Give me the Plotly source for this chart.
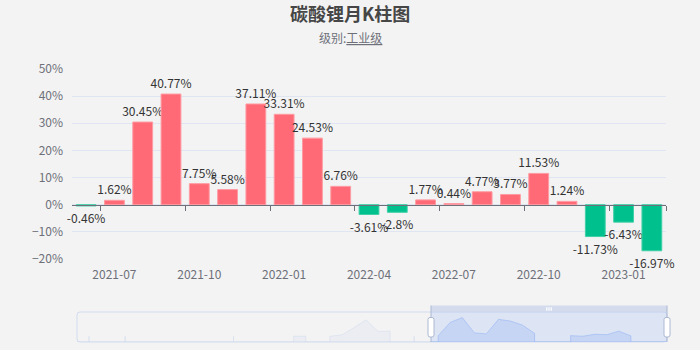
import plotly.graph_objects as go

W, H = 700, 350

# Monthly price change of industrial-grade lithium carbonate (%)
months = ["2021-06", "2021-07", "2021-08", "2021-09", "2021-10", "2021-11", "2021-12",
          "2022-01", "2022-02", "2022-03", "2022-04", "2022-05", "2022-06", "2022-07",
          "2022-08", "2022-09", "2022-10", "2022-11", "2022-12", "2023-01", "2023-02"]
changes = [-0.46, 1.62, 30.45, 40.77, 7.75, 5.58, 37.11, 33.31, 24.53, 6.76,
           -3.61, -2.8, 1.77, 0.44, 4.77, 3.77, 11.53, 1.24, -11.73, -6.43, -16.97]
tick_labels = ["2021-07", "2021-10", "2022-01", "2022-04", "2022-07", "2022-10", "2023-01"]

# Up-month gains 2019-01 .. 2021-05 (None = down month); only the zoom slider preview uses them
history_gains = [None, 0.2, None, None, 0.3, None, None, None, None, None,
                 None, None, None, 0.2, None, None, None, None, 0.5, 0.5,
                 None, 0.4, 3.4, 19.0, 36.0, 11.0, 11.5, None, 0.3]
zoom_start_pct = 60

UP, DOWN = "#ff6a76", "#00c18d"
AXIS_GRAY = "#6E7079"
FONT = "Noto Sans CJK SC, Noto Sans, sans-serif"

# layout geometry (pixels)
PL, PR, PT, PB = 72, 666, 69, 259
SL, SR, ST, SB = 77, 667, 312, 342


def fx(x):
    return x / W


def fy(y):
    return 1 - y / H


gains = [v if v > 0 else None for v in changes]
losses = [v if v < 0 else None for v in changes]
idx = list(range(len(months)))
y_range = [-20, 50]
x_range = [-0.5, len(months) - 0.5]

fig = go.Figure()

for vals, color, edge in ((gains, UP, "#ff9aa2"), (losses, DOWN, "#40d0a8")):
    fig.add_trace(go.Bar(
        x=idx, y=vals, width=0.7,
        marker=dict(color=color, line=dict(color=edge, width=1)),
        text=[f"{v:g}%" if v is not None else "" for v in vals],
        textposition="outside", textangle=0, constraintext="none", cliponaxis=False,
        textfont=dict(family=FONT, size=12, color="#333333"),
        hoverinfo="skip",
    ))

# category axis drawn on the zero line (boundary ticks)
tick_idx = [months.index(t) for t in tick_labels]
boundary_ticks = [i - 0.5 for i in tick_idx] + [len(months) - 0.5]
fig.add_trace(go.Scatter(x=[0], y=[0], xaxis="x2", yaxis="y", mode="markers",
                         marker=dict(opacity=0), hoverinfo="skip"))

# ---- zoom slider data preview ----
all_gains = history_gains + gains
n = len(all_gains)
present = [v for v in all_gains if v is not None]
mn, mx = min(present), max(present)
pad = 0.3 * (mx - mn)
lo, hi = mn - pad, mx + pad

sx, sy = [n - 1, 0], [lo, lo]
last_empty = None
for i, v in enumerate(all_gains):
    empty = v is None
    if empty and last_empty is False:
        sx.append(sx[-1]); sy.append(lo)
    elif not empty and last_empty:
        sx.append(i); sy.append(lo)
    sx.append(i); sy.append(lo if empty else v)
    last_empty = empty

fig.add_trace(go.Scatter(x=sx, y=sy, xaxis="x3", yaxis="y3", mode="lines", fill="toself",
                         fillcolor="rgba(210,219,238,0.25)",
                         line=dict(color="rgba(210,219,238,0.9)", width=0.6), hoverinfo="skip"))
fig.add_trace(go.Scatter(x=sx, y=sy, xaxis="x4", yaxis="y4", mode="lines", fill="toself",
                         fillcolor="rgba(143,176,247,0.25)",
                         line=dict(color="rgba(143,176,247,0.8)", width=0.6), hoverinfo="skip"))

win_start = zoom_start_pct / 100 * (n - 1)
WX0 = SL + win_start / (n - 1) * (SR - SL)
WX1 = SR

zero_pos = fy(PB) + (0 - y_range[0]) / (y_range[1] - y_range[0]) * (fy(PT) - fy(PB))


def rounded(x0, y0, x1, y1, r):
    # rounded rectangle path in paper coordinates, inputs in pixels
    pts = [
        f"M{fx(x0 + r)},{fy(y0)}", f"L{fx(x1 - r)},{fy(y0)}",
        f"Q{fx(x1)},{fy(y0)} {fx(x1)},{fy(y0 + r)}", f"L{fx(x1)},{fy(y1 - r)}",
        f"Q{fx(x1)},{fy(y1)} {fx(x1 - r)},{fy(y1)}", f"L{fx(x0 + r)},{fy(y1)}",
        f"Q{fx(x0)},{fy(y1)} {fx(x0)},{fy(y1 - r)}", f"L{fx(x0)},{fy(y0 + r)}",
        f"Q{fx(x0)},{fy(y0)} {fx(x0 + r)},{fy(y0)}", "Z",
    ]
    return " ".join(pts)


shapes = [
    # slider frame
    dict(type="path", xref="paper", yref="paper", path=rounded(SL, ST, SR, SB, 3),
         line=dict(color="#d2dbee", width=1), fillcolor="rgba(0,0,0,0)", layer="below"),
    # selected window
    dict(type="rect", xref="paper", yref="paper", x0=fx(WX0), x1=fx(WX1), y0=fy(SB), y1=fy(ST),
         fillcolor="rgba(135,175,255,0.2)", line=dict(width=0), layer="below"),
    # move handle bar
    dict(type="rect", xref="paper", yref="paper", x0=fx(WX0), x1=fx(WX1), y0=fy(ST), y1=fy(ST - 6.5),
         fillcolor="rgba(205,214,235,0.85)", line=dict(width=0), layer="above"),
]
for hx in (WX0, WX1):
    shapes.append(dict(type="line", xref="paper", yref="paper", x0=fx(hx), x1=fx(hx),
                       y0=fy(SB), y1=fy(ST - 6.5), line=dict(color="#ACB8D1", width=1), layer="above"))
    shapes.append(dict(type="path", xref="paper", yref="paper",
                       path=rounded(hx - 3, 317.5, hx + 3, 337, 2),
                       fillcolor="#ffffff", line=dict(color="#ACB8D1", width=1), layer="above"))
mid = (WX0 + WX1) / 2
for dx in (-2.2, 0, 2.2):
    shapes.append(dict(type="line", xref="paper", yref="paper", x0=fx(mid + dx), x1=fx(mid + dx),
                       y0=fy(307.3), y1=fy(310.7), line=dict(color="#ffffff", width=1.2), layer="above"))

annotations = [
    dict(text="<b>碳酸锂月K柱图</b>", xref="paper", yref="paper", x=0.5, y=fy(13),
         xanchor="center", yanchor="middle", showarrow=False,
         font=dict(family=FONT, size=18, color="#464646")),
    dict(text="级别:<span style='text-decoration:underline'>工业级</span>", xref="paper", yref="paper",
         x=0.5, y=fy(38), xanchor="center", yanchor="middle", showarrow=False,
         font=dict(family=FONT, size=12, color=AXIS_GRAY)),
]

fig.update_layout(
    width=W, height=H, autosize=False,
    margin=dict(l=0, r=0, t=0, b=0),
    paper_bgcolor="#f3f3f3", plot_bgcolor="rgba(0,0,0,0)",
    showlegend=False, barmode="overlay",
    font=dict(family=FONT, size=12, color=AXIS_GRAY),
    xaxis=dict(domain=[fx(PL), fx(PR)], range=x_range, anchor="y",
               tickvals=tick_idx, ticktext=tick_labels, ticks="outside", ticklen=5,
               tickcolor="rgba(0,0,0,0)", showgrid=False, zeroline=False, showline=False,
               tickfont=dict(family=FONT, size=12, color=AXIS_GRAY), automargin=False),
    xaxis2=dict(overlaying="x", anchor="free", position=zero_pos, side="bottom", range=x_range,
                tickvals=boundary_ticks, ticks="outside", ticklen=5, tickcolor=AXIS_GRAY,
                showline=True, linecolor=AXIS_GRAY, linewidth=1, showticklabels=False,
                showgrid=False, zeroline=False, automargin=False),
    yaxis=dict(domain=[fy(PB), fy(PT)], range=y_range, dtick=10, ticksuffix="%",
               gridcolor="#E0E6F1", zeroline=False, showline=False, ticks="",
               ticklabelstandoff=8,
               tickfont=dict(family=FONT, size=12, color=AXIS_GRAY), automargin=False),
    xaxis3=dict(domain=[fx(SL), fx(SR)], range=[0, n - 1], anchor="y3", visible=False),
    yaxis3=dict(domain=[fy(SB), fy(ST)], range=[lo, hi], anchor="x3", visible=False),
    xaxis4=dict(domain=[fx(WX0), fx(WX1)], range=[win_start, n - 1], anchor="y4", visible=False),
    yaxis4=dict(domain=[fy(SB), fy(ST)], range=[lo, hi], anchor="x4", visible=False),
    shapes=shapes, annotations=annotations,
)

fig.write_html("out.html")
